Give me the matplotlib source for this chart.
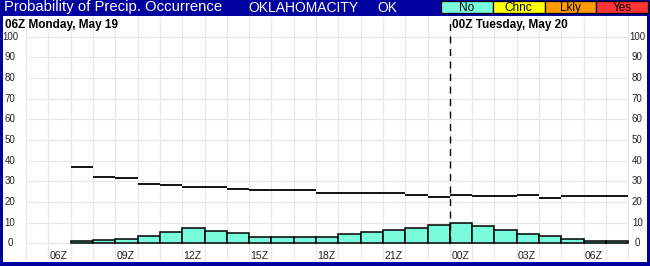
import numpy as np
import matplotlib
matplotlib.use("Agg")
import matplotlib.pyplot as plt
from matplotlib.patches import Rectangle

plt.rcParams["font.family"] = ["Liberation Sans", "DejaVu Sans"]

# hours counted from 06Z Monday May 19; each bar covers one hour
hours = np.arange(1, 26)
pop_hourly = [1.0, 1.5, 2.1, 3.4, 5.3, 7.3, 5.8, 4.8, 2.9, 2.9, 2.9, 2.9,
              4.4, 5.3, 6.3, 7.3, 8.7, 9.7, 8.2, 6.3, 4.4, 3.4, 1.9, 1.0, 1.0]
pop_line = [36.8, 31.9, 31.5, 28.7, 28.1, 27.1, 27.1, 26.1, 25.6, 25.6, 25.6, 24.4,
            24.4, 24.4, 24.4, 23.2, 22.3, 23.2, 22.7, 22.7, 23.2, 21.8, 22.7, 22.7, 22.7]
tick_hours = [0, 3, 6, 9, 12, 15, 18, 21, 24]
tick_labels = ["06Z", "09Z", "12Z", "15Z", "18Z", "21Z", "00Z", "03Z", "06Z"]
y_ticks = list(range(0, 101, 10))
day_hours = [0, 18]
day_labels = ["06Z Monday, May 19", "00Z Tuesday, May 20"]
cat_labels = ["No", "Chnc", "Lkly", "Yes"]
cat_colors = ["#78FCDC", "#FFFF00", "#FF9A00", "#FF3333"]

BLUE = "#00009E"
fig = plt.figure(figsize=(6.5, 2.66), dpi=100, facecolor=BLUE)

# title bar, in pixel units
tb = fig.add_axes([0, 250 / 266, 1, 16 / 266])
tb.set_xlim(0, 650)
tb.set_ylim(16, 0)
tb.axis("off")
tb.text(4, 7.5, "Probability of Precip. Occurrence", color="white", fontsize=10.7,
        va="center", ha="left")
tb.text(248, 7.5, "OKLAHOMACITY", color="white", fontsize=10, va="center")
tb.text(377, 7.5, "OK", color="white", fontsize=10, va="center")
bx, bw = 441, 51.75
for i, (lab, col) in enumerate(zip(cat_labels, cat_colors)):
    tb.add_patch(Rectangle((bx + i * bw, 1.2), bw, 12.3, facecolor=col,
                           edgecolor="black", lw=0.9))
    tb.text(bx + i * bw + bw / 2, 7.6, lab, fontsize=8.5, ha="center", va="center")

# main panel
ax = fig.add_axes([3 / 650, 4 / 266, 644 / 650, 246 / 266])
ax.set_facecolor("white")
ax.set_xlim(-2.04, 26.84)
ax.set_ylim(-9.1, 110.1)
ax.set_xticks([])
ax.set_yticks([])
for s in ax.spines.values():
    s.set_visible(False)

grid = "#E8E8E8"
ax.hlines(y_ticks, -1, 26, color=grid, lw=0.9, zorder=0)
ax.vlines(np.arange(-1, 27), -8, 110.1, color=grid, lw=0.9, zorder=0)

for v in y_ticks:
    ax.text(-1.73, v, str(v), fontsize=7, ha="center", va="center", color="#222222")
    ax.text(26.4, v, str(v), fontsize=7, ha="center", va="center", color="#222222")
for h, lab in zip(tick_hours, tick_labels):
    ax.text(h + 0.06, -6.2, lab, fontsize=7.6, ha="left", va="center", color="#222222")

ax.bar(hours, pop_hourly, width=1, align="edge", color=cat_colors[0],
       edgecolor="black", linewidth=1.1, zorder=2)
ax.hlines(pop_line, hours, hours + 1, color="black", lw=1.3, zorder=3)

ax.vlines(day_hours[1], 0, 108.5, color="black", lw=1, linestyles=(0, (5, 4)), zorder=4)
for h, lab in zip(day_hours, day_labels):
    ax.text(h - 2.0 + 0.05 if h == 0 else h + 0.1, 108.8, lab, fontsize=8.5,
            fontweight="bold", ha="left", va="top")

fig.savefig("out.png", dpi=100, facecolor=BLUE)
